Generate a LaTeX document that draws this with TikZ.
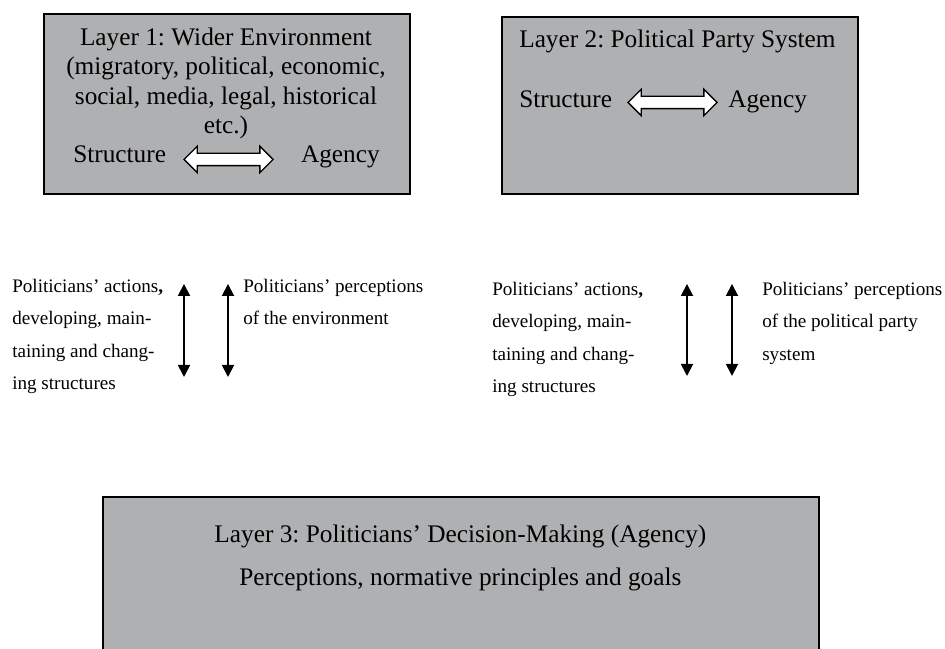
\documentclass[tikz,border=0pt]{standalone}
\usepackage{fontspec}
\setmainfont{Liberation Serif}
\usepackage{tikz}
\usepackage{xcolor}
\usetikzlibrary{shapes.arrows}
\usetikzlibrary{arrows.meta}
\frenchspacing

\definecolor{boxgray}{RGB}{175,176,178}

\tikzset{
  layer/.style={draw, fill=boxgray, line width=1.4pt, rectangle, anchor=north west, inner sep=0pt},
  big/.style={font=\fontsize{18}{21}\selectfont, inner sep=0pt},
  small/.style={font=\fontsize{13.6}{23}\selectfont, inner sep=0pt, align=left, anchor=north west},
  sa/.style={double arrow, draw, fill=white, line width=1pt, minimum height=2.225cm,
    inner xsep=0pt, inner ysep=.1375cm, double arrow head extend=.175cm},
  vt/.style={{Triangle[width=.3cm,length=.3cm]}-{Triangle[width=.3cm,length=.3cm]}, line width=1.3pt}
}

\begin{document}
\begin{tikzpicture}
  \useasboundingbox (0,0) rectangle (23.625,16.2);
  \clip (0,0) rectangle (23.625,16.2);

  \node (l1) [layer, minimum width=9.15cm, minimum height=4.5cm] at (1.075,15.875) {};
  \node (l2) [layer, minimum width=8.9cm, minimum height=4.425cm] at (12.525,15.8) {};
  \node (l3) [layer, minimum width=17.9cm, minimum height=5cm] at (2.55,3.8) {};

  \path (5.65,15.51)
    node (env) [big, anchor=north, align=center] {Layer 1: Wider Environment\\(migratory, political, economic,\\social, media, legal, historical\\etc.)}
    (1.825,12.125) node (st1) [big, anchor=base west] {Structure}
    (9.5,12.125) node (ag1) [big, anchor=base east] {Agency}
    (5.7125,12.2125) node (sa1) [sa] {};

  \path (12.975,15)
    node (pps) [big, anchor=base west] {Layer 2: Political Party System}
    (12.975,13.5) node (st2) [big, anchor=base west] {Structure}
    (18.2,13.5) node (ag2) [big, anchor=base west] {Agency}
    (16.8125,13.6375) node (sa2) [sa] {};

  \node (act1) [small] at (.3,9.227) {Politicians’ actions\textbf{,}\\developing, main-\\taining and chang-\\ing structures};
  \node (per1) [small] at (6.075,9.227) {Politicians’ perceptions\\of the environment};
  \node (act2) [small] at (12.3,9.15) {Politicians’ actions\textbf{,}\\developing, main-\\taining and chang-\\ing structures};
  \node (per2) [small] at (19.05,9.15) {Politicians’ perceptions\\of the political party\\system};

  \node (dm) [big, font=\fontsize{18}{30}\selectfont, align=center, anchor=north] at (11.51,3.075)
    {Layer 3: Politicians’ Decision-Making (Agency)\\Perceptions, normative principles and goals};

  \path (node cs:name=l1,anchor=south west) +(3.525,-2.225) coordinate (a1t);
  \path (node cs:name=l3,anchor=north west) +(2.05,2.975) coordinate (a1b);
  \draw[vt] (a1t) -- (a1b);
  \path (node cs:name=l1,anchor=south west) +(4.625,-2.225) coordinate (p1t);
  \path (node cs:name=l3,anchor=north west) +(3.15,2.975) coordinate (p1b);
  \draw[vt] (p1t) -- (p1b);
  \path (node cs:name=l2,anchor=south west) +(4.65,-2.225) coordinate (a2t);
  \path (node cs:name=l3,anchor=north west) +(14.625,3) coordinate (a2b);
  \draw[vt] (a2t) -- (a2b);
  \path (node cs:name=l2,anchor=south west) +(5.775,-2.225) coordinate (p2t);
  \path (node cs:name=l3,anchor=north west) +(15.75,3) coordinate (p2b);
  \draw[vt] (p2t) -- (p2b);
\end{tikzpicture}
\end{document}
